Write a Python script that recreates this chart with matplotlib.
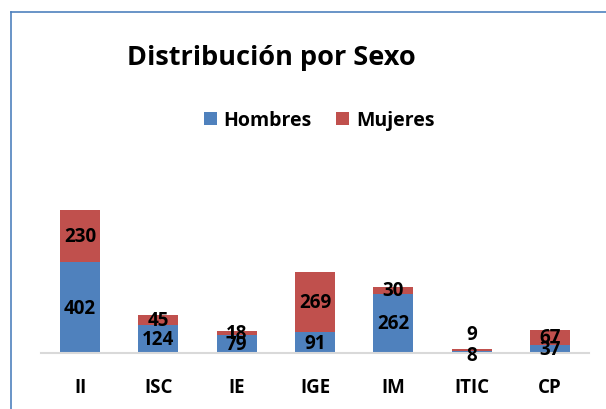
import matplotlib
matplotlib.use("Agg")
import matplotlib.pyplot as plt
from matplotlib.patches import Patch
from matplotlib.lines import Line2D

categories = ["II", "ISC", "IE", "IGE", "IM", "ITIC", "CP"]
hombres = [402, 124, 79, 91, 262, 8, 37]
mujeres = [230, 45, 18, 269, 30, 9, 67]

BLUE = "#4F81BD"
RED = "#C0504D"
FONT = "Open Sans"

plt.rcParams['font.family'] = [FONT, 'DejaVu Sans']

fig = plt.figure(figsize=(6.06, 4.10), dpi=100)
ax = fig.add_axes([41/606, 1-354/410, 548/606, 158/410])

x = list(range(len(categories)))
w = 0.51
ax.bar(x, hombres, width=w, color=BLUE, zorder=2)
ax.bar(x, mujeres, width=w, bottom=hombres, color=RED, zorder=2)

ax.set_xlim(-0.5, len(categories) - 0.5)
ax.set_ylim(0, 700)
for s in ["top", "right", "left"]:
    ax.spines[s].set_visible(False)
ax.spines["bottom"].set_color("#D9D9D9")
ax.spines["bottom"].set_linewidth(1.5)
ax.set_yticks([])
ax.set_xticks(x)
ax.set_xticklabels(categories, fontsize=13.5, fontweight="bold")
ax.tick_params(axis="x", length=0, pad=17)

for i, (h, m) in enumerate(zip(hombres, mujeres)):
    dy_h = -2 if i == 5 else 0
    dy_m = 12 if i == 5 else 0
    ax.annotate(str(h), (i, h / 2), xytext=(0, dy_h), textcoords="offset points",
                ha="center", va="center", fontsize=13.5, fontweight="bold", zorder=3)
    ax.annotate(str(m), (i, h + m / 2), xytext=(0, dy_m), textcoords="offset points",
                ha="center", va="center", fontsize=13.5, fontweight="bold", zorder=3)

fig.text(271.5/606, 1-58/410, "Distribución por Sexo", ha="center", va="center",
         fontsize=19.5, fontweight="bold")

handles = [Patch(facecolor=BLUE, edgecolor="none"), Patch(facecolor=RED, edgecolor="none")]
fig.legend(handles, ["Hombres", "Mujeres"], loc="center", bbox_to_anchor=(319/606, 1-121/410),
           ncol=2, frameon=False, prop={"family": FONT, "weight": "bold", "size": 14},
           handlelength=0.67, handleheight=0.67, handletextpad=0.36, columnspacing=1.24)

fig.add_artist(Line2D([10.5/606, 10.5/606], [0, 1-13/410], transform=fig.transFigure,
                      color="#4F81BD", linewidth=1.2))
fig.add_artist(Line2D([10.5/606, 1], [1-13/410, 1-13/410], transform=fig.transFigure,
                      color="#4F81BD", linewidth=1.2))

fig.savefig("out.png", dpi=100)
